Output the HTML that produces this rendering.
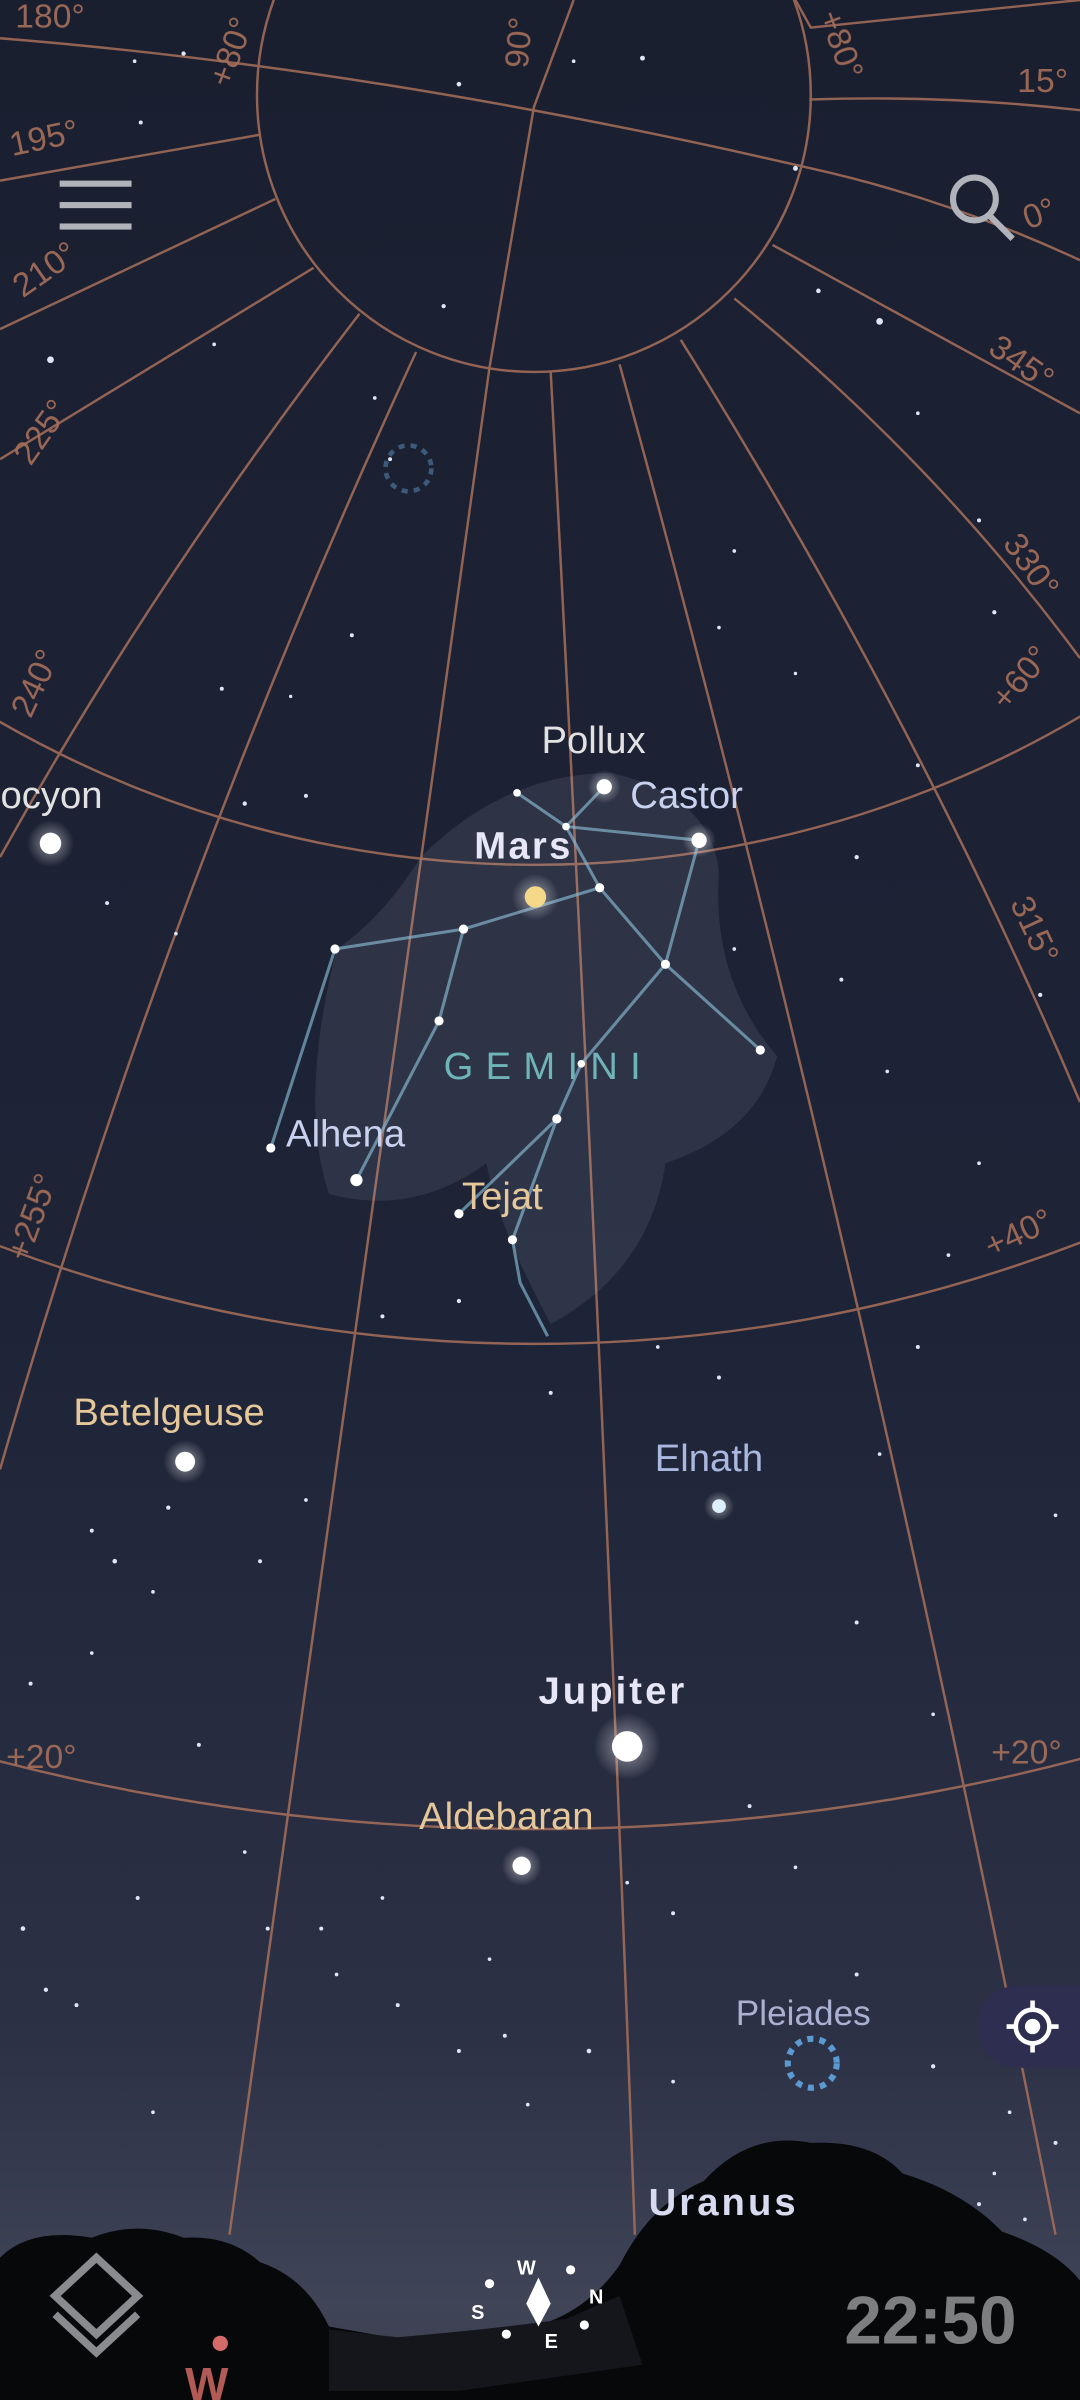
<!DOCTYPE html>
<html><head><meta charset="utf-8"><style>
html,body{margin:0;padding:0;background:#1b2031;}
svg{display:block}
text{font-family:"Liberation Sans",sans-serif}
</style></head><body>
<svg width="1080" height="2400" viewBox="0 0 706 1568" preserveAspectRatio="none">
<defs>
<linearGradient id="sky" x1="0" y1="0" x2="0" y2="1">
<stop offset="0" stop-color="#1a1f30"/><stop offset="0.55" stop-color="#1e2437"/><stop offset="0.85" stop-color="#2c3146"/><stop offset="0.96" stop-color="#3f4457"/><stop offset="1" stop-color="#3a3d4a"/>
</linearGradient>
<radialGradient id="glow"><stop offset="0" stop-color="#fff" stop-opacity="0.5"/><stop offset="1" stop-color="#fff" stop-opacity="0"/></radialGradient>
</defs>
<rect width="706" height="1568" fill="url(#sky)"/>
<g id="grid" stroke="#a8705a" stroke-width="1.6" fill="none" opacity="0.85">
<circle cx="349" cy="62" r="181"/>
<circle cx="350" cy="-138" r="703"/>
<circle cx="350" cy="-113" r="991"/>
<circle cx="350" cy="-212" r="1407"/>
<path d="M0,25 Q250,45 530,110 Q620,130 706,170"/>
<path d="M375,0 L349,70 L320,240 L150,1460"/>
<path d="M360,243 Q395,900 415,1460"/>
<path d="M405,238 Q560,800 690,1460"/>
<path d="M445,222 Q600,470 706,720"/>
<path d="M480,195 Q610,300 706,430"/>
<path d="M505,160 L706,270"/>
<path d="M529,65 Q620,62 706,72"/>
<path d="M520,0 L530,18 L706,0"/>
<path d="M272,230 Q110,580 0,960"/>
<path d="M235,205 Q100,380 0,560"/>
<path d="M205,175 L0,300"/>
<path d="M180,130 L0,215"/>
<path d="M170,88 L0,118"/>
</g>
<g fill="#a8705a" font-size="22" opacity="0.9">
<text x="10" y="18">180°</text>
<text x="8" y="102" transform="rotate(-12 8 102)">195°</text>
<text x="15" y="195" transform="rotate(-35 15 195)">210°</text>
<text x="20" y="305" transform="rotate(-55 20 305)">225°</text>
<text x="20" y="470" transform="rotate(-65 20 470)">240°</text>
<text x="150" y="58" transform="rotate(-70 150 58)">+80°</text>
<text x="345" y="45" transform="rotate(-85 345 45)">90°</text>
<text x="535" y="10" transform="rotate(70 535 10)">+80°</text>
<text x="665" y="60">15°</text>
<text x="672" y="150" transform="rotate(-20 672 150)">0°</text>
<text x="645" y="230" transform="rotate(35 645 230)">345°</text>
<text x="655" y="355" transform="rotate(55 655 355)">330°</text>
<text x="658" y="465" transform="rotate(-50 658 465)">+60°</text>
<text x="660" y="590" transform="rotate(65 660 590)">315°</text>
<text x="648" y="822" transform="rotate(-25 648 822)">+40°</text>
<text x="18" y="825" transform="rotate(-70 18 825)">+255°</text>
<text x="4" y="1155">+20°</text>
<text x="648" y="1152">+20°</text>
</g>
<g id="bgstars" fill="#dfe6f5"></g>
<g fill="#070809">
<path d="M0,1475 Q20,1455 60,1462 Q90,1450 120,1462 Q150,1460 170,1478 Q200,1488 215,1520 L260,1528 Q300,1525 340,1522 Q380,1515 405,1480 Q425,1440 460,1425 Q490,1392 530,1400 Q570,1398 590,1420 Q630,1432 655,1458 Q690,1470 706,1490 L706,1568 L0,1568Z"/>
<path d="M215,1522 L260,1527 Q320,1522 370,1515 L405,1500 L420,1545 L300,1562 L215,1562Z" fill="#14161b"/>
</g>
<g stroke="#7fb0c8" stroke-width="2" fill="none" opacity="0.7">
<polyline points="338,518 370,540 457,549"/>
<polyline points="395,514 370,540 392,580 435,630 497,686"/>
<polyline points="457,549 435,630"/>
<polyline points="392,580 303,607 219,620 177,750"/>
<polyline points="303,607 287,667 233,771"/>
<polyline points="435,630 380,695 364,731 300,793"/>
<polyline points="364,731 335,810 340,838 358,873"/>
</g>
<g opacity="0.1" fill="#c8d0e0">
<path d="M275,560 Q330,505 400,505 Q465,520 470,570 Q465,640 508,690 Q495,740 435,760 Q425,830 360,865 Q325,800 318,760 Q270,795 215,780 Q195,720 220,620 Q250,600 275,560Z"/>
</g>
<g id="namedstars"></g>
<g font-size="25">
<text x="354" y="492" fill="#e2e2e2">Pollux</text>
<text x="412" y="528" fill="#c8d2ee">Castor</text>
<text x="-8" y="528" fill="#e2e2e2">rocyon</text>
<text x="310" y="561" fill="#e6e6f6" font-weight="bold" letter-spacing="1.5">Mars</text>
<text x="290" y="705" fill="#6fb4b8" letter-spacing="8">GEMINI</text>
<text x="187" y="749" fill="#c8d2ee">Alhena</text>
<text x="302" y="790" fill="#e5c79a">Tejat</text>
<text x="48" y="931" fill="#e5c79a">Betelgeuse</text>
<text x="428" y="961" fill="#aab8e0">Elnath</text>
<text x="352" y="1113" fill="#e6e6f6" font-weight="bold" letter-spacing="2">Jupiter</text>
<text x="274" y="1195" fill="#e5c79a">Aldebaran</text>
<text x="481" y="1323" fill="#aab0d0" font-size="23">Pleiades</text>
<text x="424" y="1447" fill="#d8daf0" font-weight="bold" letter-spacing="2">Uranus</text>
</g>
<circle cx="267" cy="306" r="15" fill="none" stroke="#3d5a7a" stroke-width="3" stroke-dasharray="4 4"/>
<circle cx="531" cy="1348" r="16" fill="none" stroke="#5a9ad0" stroke-width="4" stroke-dasharray="4 4"/>
<g fill="#b0b3ba">
<rect x="39" y="118" width="47" height="4"/><rect x="39" y="132" width="47" height="4"/><rect x="39" y="146" width="47" height="4"/>
</g>
<g stroke="#b0b3ba" stroke-width="4" fill="none">
<circle cx="637" cy="130" r="14"/><line x1="647" y1="141" x2="662" y2="156"/>
</g>
<g>
<path d="M706,1297 L670,1297 Q640,1297 640,1324 Q640,1351 670,1351 L706,1351Z" fill="#2e2e50"/>
<circle cx="675" cy="1324" r="11" fill="none" stroke="#fff" stroke-width="3"/>
<circle cx="675" cy="1324" r="5" fill="#fff"/>
<path d="M675,1307 v6 M675,1335 v6 M658,1324 h6 M686,1324 h6" stroke="#fff" stroke-width="3"/>
</g>
<g stroke="#8a8b8e" stroke-width="5" fill="none">
<path d="M63,1475 L90,1500 L63,1525 L36,1500Z"/><path d="M36,1512 L63,1537 L90,1512"/>
</g>
<g fill="#fff" font-size="13" font-weight="bold">
<text x="338" y="1486">W</text><text x="308" y="1515">S</text><text x="385" y="1505">N</text><text x="356" y="1534">E</text>
<path d="M352,1488 L360,1505 L352,1520 L344,1505Z" fill="#fff"/>
<circle cx="320" cy="1492" r="3"/><circle cx="373" cy="1483" r="3"/><circle cx="382" cy="1519" r="3"/><circle cx="331" cy="1525" r="3"/>
</g>
<circle cx="144" cy="1531" r="5" fill="#d46a6a"/>
<text x="121" y="1568" font-size="30" font-weight="bold" fill="#b25a55">W</text>
<text x="552" y="1531" font-size="44" font-weight="bold" fill="#7d7e80">22:50</text>
</svg>
<script>
const bgX=[120,88,300,375,420,33,92,140,230,520,535,575,600,640,480,290,255,245,190,145,160,115,70,200,600,650,520,470,560,480,550,580,680,640,620,600,575,470,430,360,300,250,200,170,100,60,20,130,160,175,220,260,320,410,440,520,560,610,660,690,650,100,50,30,300,345,330,385,440,460,520,550,490,210,250,90,15,640,670,610,560,690,60,75,110];
const bgY=[35,40,55,40,38,235,80,225,415,110,190,210,270,340,360,200,300,260,455,450,525,610,590,520,500,400,440,410,560,620,640,700,650,760,820,880,950,900,880,910,850,860,980,1020,1040,1080,1100,1140,1210,1260,1290,1310,1280,1230,1250,1220,1290,1350,1380,1400,1420,1380,1310,1300,1340,1375,1330,1340,1360,1430,1460,1520,1180,1260,1240,1240,1260,1440,1450,1120,1060,990,1000,1020,985];
const bgR=[1.4,1.2,1.5,1.2,1.6,2.2,1.3,1.2,1.3,1.6,1.5,2.2,1.2,1.3,1.2,1.4,1.3,1.2,1.1,1.3,1.4,1.2,1.3,1.3,1.3,1.4,1.1,1.2,1.4,1.2,1.3,1.2,1.4,1.2,1.2,1.3,1.2,1.3,1.2,1.3,1.4,1.3,1.2,1.3,1.2,1.2,1.3,1.3,1.2,1.3,1.2,1.3,1.2,1.2,1.3,1.2,1.3,1.4,1.2,1.3,1.2,1.2,1.3,1.4,1.3,1.2,1.3,1.5,1.2,1.3,1.2,1.2,1.3,1.3,1.2,1.3,1.5,1.3,1.2,1.2,1.3,1.2,1.3,1.5,1.4];
const namedName=['pollux','castor','mars','procyon','alhena','betelgeuse','elnath','jupiter','aldebaran','tejat','star-a','star-b','star-c','star-d','star-e','star-f','star-g','star-h','star-i','star-j','star-k','star-l'];
const namedX=[395,457,350,33,233,121,470,410,341,300,338,370,392,435,497,303,219,177,287,380,364,335];
const namedY=[514,549,586,551,771,955,984,1141,1219,793,518,540,580,630,686,607,620,750,667,695,731,810];
const namedR=[5,5,7,7,4,6.5,4.5,10,6,3,2.5,2.5,3,3,3,3,3,3,3,2.5,3,3];
const namedC=['#ffffff','#ffffff','#f5d88a','#ffffff','#ffffff','#ffffff','#ddeeff','#ffffff','#ffffff','#ffffff','#fff','#fff','#fff','#fff','#fff','#fff','#fff','#fff','#fff','#fff','#fff','#fff'];
const ns='http://www.w3.org/2000/svg';
const bg=document.getElementById('bgstars');
for(let i=0;i<bgX.length;i++){
  const c=document.createElementNS(ns,'circle');
  c.setAttribute('cx',bgX[i]);c.setAttribute('cy',bgY[i]);c.setAttribute('r',bgR[i]);
  
  
  bg.appendChild(c);
}
const g=document.getElementById('namedstars');
for(let i=0;i<namedX.length;i++){
  if(namedR[i]>4){
    const h=document.createElementNS(ns,'circle');
    h.setAttribute('cx',namedX[i]);h.setAttribute('cy',namedY[i]);h.setAttribute('r',namedR[i]*2.2);h.setAttribute('fill','url(#glow)');
    
    
    g.appendChild(h);
  }
  const c=document.createElementNS(ns,'circle');
  c.setAttribute('cx',namedX[i]);c.setAttribute('cy',namedY[i]);c.setAttribute('r',namedR[i]);c.setAttribute('fill',namedC[i]);
  
  
  g.appendChild(c);
}
</script>
</body></html>
